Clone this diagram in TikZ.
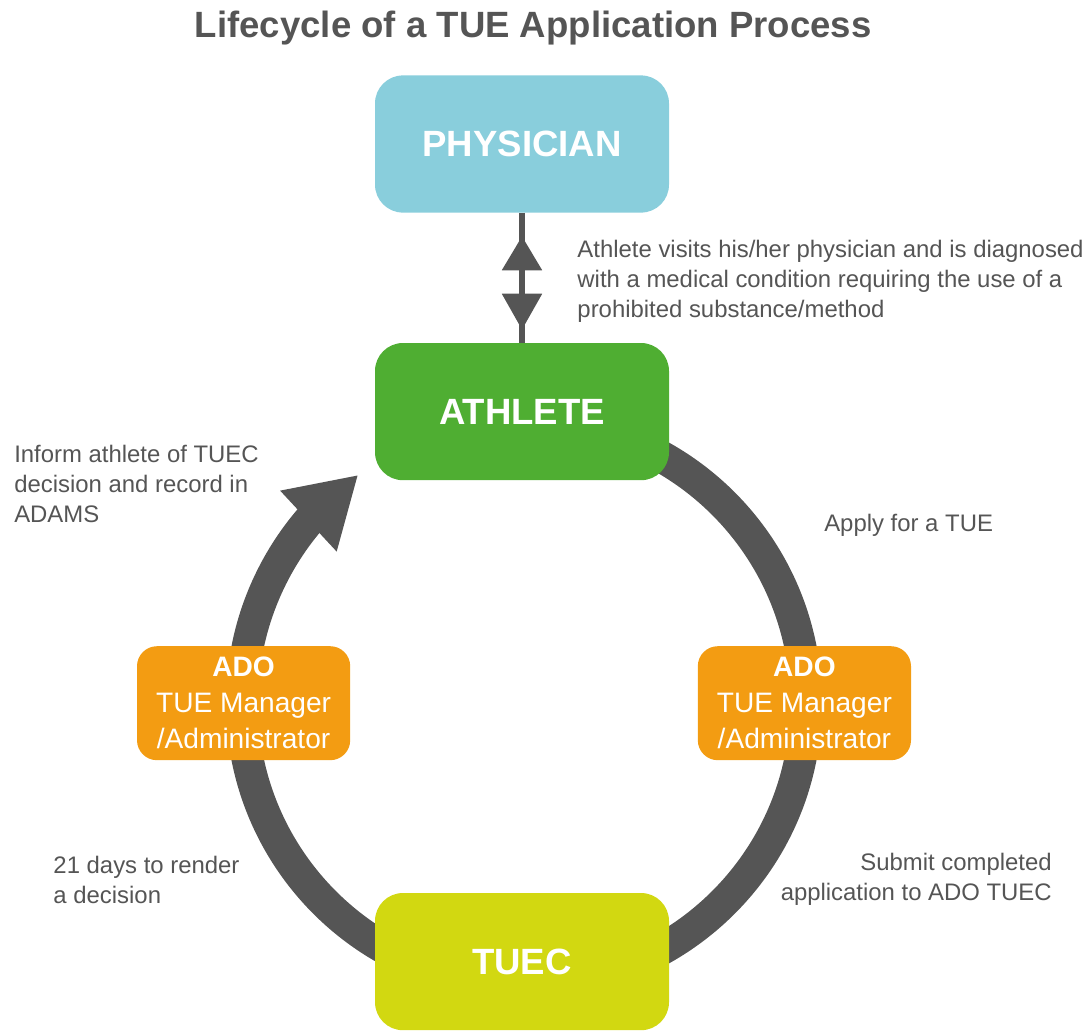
\documentclass[tikz,border=0pt]{standalone}
\usepackage{fontspec}
\setmainfont{Liberation Sans}
\usetikzlibrary{arrows.meta,bending,decorations.markings}

\definecolor{ringgray}{HTML}{555555}
\definecolor{physblue}{HTML}{89CEDC}
\definecolor{athgreen}{HTML}{4FAE32}
\definecolor{tuecyellow}{HTML}{D2D811}
\definecolor{adoorange}{HTML}{F39C12}

\tikzset{
    stage/.style={rounded corners=0.7cm, minimum width=7.35cm, minimum height=3.43cm,
        inner sep=0pt, text=white, font=\fontsize{26}{31}\selectfont\bfseries},
    adobox/.style={rounded corners=0.5cm, minimum width=5.33cm, minimum height=2.85cm,
        inner sep=0pt, fill=adoorange, text=white, align=center,
        font=\fontsize{20}{25.6}\selectfont},
    note/.style={inner sep=0pt, text=ringgray, font=\fontsize{17}{21.3}\selectfont},
    ring/.style={draw=ringgray, line width=0.8cm},
    link/.style={draw=ringgray, line width=0.15cm}
}

\begin{document}
\begin{tikzpicture}
    \useasboundingbox (0,0) rectangle (27.3,-25.8);

    \node[text=ringgray, font=\fontsize{26}{31}\selectfont\bfseries] (title) at (13.33,-0.7) {Lifecycle of a TUE Application Process};

    % the cycle behind the boxes
    \coordinate (hub) at (13.1,-17.575);
    \draw[ring, -{Triangle[width=1.95cm,length=1.7cm]}] ([shift={(88:7.05)}]hub) arc[start angle=88, end angle=-234, radius=7.05];

    \node[stage, fill=physblue] (phys) at (13.05,-3.6) {PHYSICIAN};
    \node[stage, fill=athgreen] (ath) at (13.05,-10.29) {ATHLETE};
    \node[stage, fill=tuecyellow] (tuec) at (13.05,-24.04) {TUEC};
    \node[adobox] (adoL) at (6.09,-17.58) {\textbf{ADO}\\TUE Manager\\/Administrator};
    \node[adobox] (adoR) at (20.11,-17.58) {\textbf{ADO}\\TUE Manager\\/Administrator};

    \draw[link, postaction={decorate}, decoration={markings,
        mark=at position 0.18 with {\arrowreversed[ringgray]{Triangle[width=0.97cm,length=0.85cm]}},
        mark=at position 0.9 with {\arrow[ringgray]{Triangle[width=0.97cm,length=0.9cm]}}}]
        (phys) -- (ath);

    % notes
    \node[note, anchor=west, align=left] (visit) at (14.43,-7.03) {Athlete visits his/her physician and is diagnosed\\with a medical condition requiring the use of a\\prohibited substance/method};
    \node[note, anchor=west, align=left] (inform) at (0.35,-12.1) {Inform athlete of TUEC\\decision and record in\\ADAMS};
    \node[note, anchor=west] (apply) at (20.6,-13.13) {Apply for a TUE};
    \node[note, anchor=west, align=left] (days) at (1.33,-21.99) {21 days to render\\a decision};
    \node[note, anchor=east, align=right] (submit) at (26.3,-21.99) {Submit completed\\application to ADO TUEC};
\end{tikzpicture}
\end{document}
